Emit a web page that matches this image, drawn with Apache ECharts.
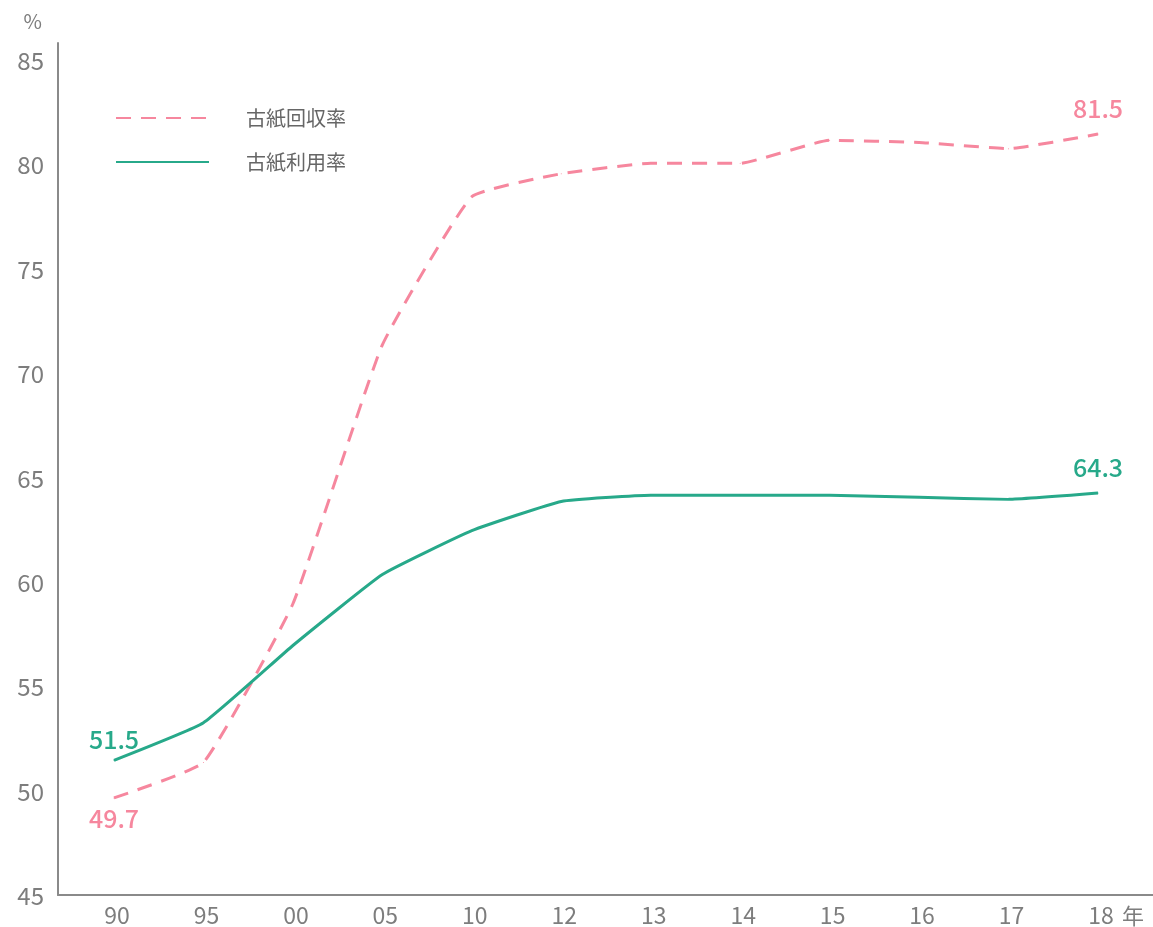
<!DOCTYPE html>
<html>
<head>
<meta charset="utf-8">
<script src="https://cdn.jsdelivr.net/npm/echarts@6/dist/echarts.min.js"></script>
<style>
  html, body { margin: 0; padding: 0; background: #fff; }
  #chart { width: 1153px; height: 927px; }
</style>
</head>
<body>
<div id="chart"></div>
<script>
const years = ['90', '95', '00', '05', '10', '12', '13', '14', '15', '16', '17', '18'];
// 古紙回収率
const recoveryRate = [49.7, 51.4, 59.0, 71.4, 78.5, 79.6, 80.1, 80.1, 81.2, 81.1, 80.8, 81.5];
// 古紙利用率
const utilizationRate = [51.5, 53.3, 57.0, 60.4, 62.5, 63.9, 64.2, 64.2, 64.2, 64.1, 64.0, 64.3];
const yTicks = [45, 50, 55, 60, 65, 70, 75, 80, 85];

const PINK = '#f6879e';
const GREEN = '#27a98a';
const GREY = '#7d7d7d';
const FONT = '"Noto Sans CJK JP", "Noto Sans", sans-serif';

const myChart = echarts.init(document.getElementById('chart'));

// 最初と最後の点だけ数値を表示
function withEndLabels(values, color, firstPos, lastPos) {
  return values.map((v, i) => {
    if (i !== 0 && i !== values.length - 1) return v;
    return {
      value: v,
      label: {
        show: true,
        position: i === 0 ? firstPos : lastPos,
        distance: i === 0 ? 8 : 13,
        color: color,
        fontSize: 25,
        fontWeight: 500,
        fontFamily: FONT,
        formatter: '{c}'
      }
    };
  });
}

const option = {
  animation: false,
  backgroundColor: '#fff',
  textStyle: { fontFamily: FONT },
  legend: {
    orient: 'vertical',
    left: 110,
    top: 103,
    itemWidth: 93,
    itemHeight: 14,
    itemGap: 24,
    itemStyle: { opacity: 0 },
    textStyle: {
      color: '#666',
      fontSize: 20,
      padding: [0, 0, 0, 32]
    },
    data: ['古紙回収率', '古紙利用率']
  },
  grid: [
    // 軸線だけの枠
    { left: 58, right: 0, top: 43, bottom: 32 },
    // データ用
    { left: 114, right: 55, top: 61, bottom: 31 }
  ],
  xAxis: [
    {
      gridIndex: 0,
      type: 'category',
      data: years,
      axisLine: { lineStyle: { color: '#8a8a8a', width: 2 } },
      axisTick: { show: false },
      axisLabel: { show: false },
      splitLine: { show: false }
    },
    {
      gridIndex: 1,
      type: 'category',
      boundaryGap: false,
      data: years,
      axisLine: { show: false },
      axisTick: { show: false },
      splitLine: { show: false },
      axisLabel: {
        color: GREY,
        fontSize: 23,
        margin: 8,
        padding: [0, 0, 0, 6]
      },
      name: '年',
      nameLocation: 'end',
      nameGap: 24,
      nameTextStyle: {
        color: GREY,
        fontSize: 22,
        verticalAlign: 'top',
        padding: [9, 0, 0, 0]
      }
    }
  ],
  yAxis: [
    {
      gridIndex: 0,
      type: 'value',
      min: 0,
      max: 1,
      axisLine: { show: true, lineStyle: { color: '#8a8a8a', width: 2 } },
      axisTick: { show: false },
      axisLabel: { show: false },
      splitLine: { show: false }
    },
    {
      gridIndex: 1,
      type: 'value',
      min: yTicks[0],
      max: yTicks[yTicks.length - 1],
      interval: 5,
      offset: 56,
      axisLine: { show: false },
      axisTick: { show: false },
      splitLine: { show: false },
      axisLabel: {
        color: GREY,
        fontSize: 24,
        margin: 14
      },
      name: '%',
      nameLocation: 'end',
      nameGap: 30,
      nameTextStyle: {
        color: GREY,
        fontSize: 20,
        align: 'right',
        padding: [0, 16, 0, 0]
      }
    }
  ],
  series: [
    {
      name: '古紙回収率',
      type: 'line',
      xAxisIndex: 1,
      yAxisIndex: 1,
      smooth: 0.12,
      symbol: 'circle',
      symbolSize: 1,
      itemStyle: { color: PINK },
      lineStyle: { color: PINK, width: 3, type: [15, 10] },
      data: withEndLabels(recoveryRate, PINK, 'bottom', 'top')
    },
    {
      name: '古紙利用率',
      type: 'line',
      xAxisIndex: 1,
      yAxisIndex: 1,
      smooth: 0.12,
      symbol: 'circle',
      symbolSize: 1,
      itemStyle: { color: GREEN },
      lineStyle: { color: GREEN, width: 3 },
      data: withEndLabels(utilizationRate, GREEN, 'top', 'top')
    }
  ]
};

myChart.setOption(option);
</script>
</body>
</html>
